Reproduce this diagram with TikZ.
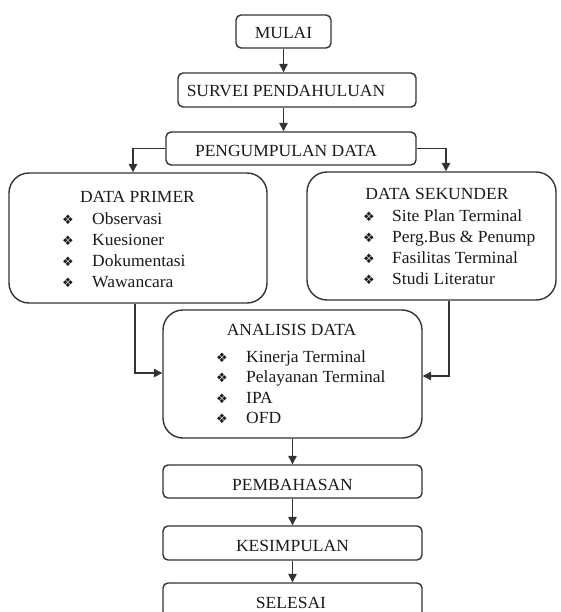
\documentclass[tikz,border=0pt]{standalone}
\usepackage{fontspec}
\setmainfont[FakeStretch=1.03]{Liberation Serif}
\newfontfamily\dingfont{DejaVu Sans}
\usetikzlibrary{arrows.meta}
\definecolor{ln}{HTML}{333333}
\definecolor{tx}{HTML}{1A1A1A}
\tikzset{
  smallbox/.style={draw=ln, line width=1.4pt, rounded corners=5pt, minimum height=33pt, inner sep=0pt},
  bigbox/.style={draw=ln, line width=1.4pt, rounded corners=20pt, inner sep=0pt},
  lbl/.style={font=\fontsize{17}{17}\selectfont, text=tx, anchor=base, inner sep=0pt},
  item/.style={font=\fontsize{17}{17}\selectfont, text=tx, anchor=base west, inner sep=0pt},
  bul/.style={font=\dingfont\fontsize{13}{13}\selectfont, text=tx, anchor=base west, inner sep=0pt},
  conn/.style={draw=ln, line width=1.4pt, -{Triangle[length=8.5pt,width=8.5pt]}}
}
\begin{document}
\begin{tikzpicture}[x=1pt,y=-1pt]
\useasboundingbox (0,0) rectangle (561,612);
% boxes
\node[smallbox, minimum width=95pt] (mulai) at (283.5,31.5) {};
\node[smallbox, minimum width=238pt, minimum height=34pt] (survei) at (297,90) {};
\node[smallbox, minimum width=250pt] (kumpul) at (291,148.5) {};
\node[bigbox, minimum width=258pt, minimum height=130pt] (primer) at (138,238) {};
\node[bigbox, minimum width=249pt, minimum height=128pt] (sekunder) at (431.5,236) {};
\node[bigbox, minimum width=259pt, minimum height=128pt] (analisis) at (292.5,374) {};
\node[smallbox, minimum width=259pt] (bahas) at (292.5,481.5) {};
\node[smallbox, minimum width=259pt, minimum height=34pt] (simpul) at (292.5,543) {};
\node[smallbox, minimum width=259pt, minimum height=34pt] (selesai) at (292.5,600) {};
% small box labels
\node[lbl] (tmulai) at (283.5,38.5) {MULAI};
\node[lbl] (tsurvei) at (286,97) {SURVEI PENDAHULUAN};
\node[lbl] (tkumpul) at (286,157) {PENGUMPULAN DATA};
\node[lbl] (tbahas) at (292.5,490) {PEMBAHASAN};
\node[lbl] (tsimpul) at (292.5,551) {KESIMPULAN};
\node[lbl] (tselesai) at (291,608) {SELESAI};
% DATA PRIMER
\node[lbl] (tprimer) at (137.5,203) {DATA PRIMER};
\node[bul] (bp1) at (62,224) {❖};
\node[item] (p1) at (92,224) {Observasi};
\node[bul] (bp2) at (62,245.5) {❖};
\node[item] (p2) at (92,245.5) {Kuesioner};
\node[bul] (bp3) at (62,266.5) {❖};
\node[item] (p3) at (92,266.5) {Dokumentasi};
\node[bul] (bp4) at (62,287) {❖};
\node[item] (p4) at (92,287) {Wawancara};
% DATA SEKUNDER
\node[lbl] (tsek) at (437,200) {DATA SEKUNDER};
\node[bul] (bs1) at (363,222) {❖};
\node[item] (s1) at (392,222) {Site Plan Terminal};
\node[bul] (bs2) at (363,242.5) {❖};
\node[item] (s2) at (392,242.5) {Perg.Bus \& Penump};
\node[bul] (bs3) at (363,263) {❖};
\node[item] (s3) at (392,263) {Fasilitas Terminal};
\node[bul] (bs4) at (363,284) {❖};
\node[item] (s4) at (392,284) {Studi Literatur};
% ANALISIS DATA
\node[lbl] (tana) at (291.5,335) {ANALISIS DATA};
\node[bul] (ba1) at (216,362) {❖};
\node[item] (a1) at (246,362) {Kinerja Terminal};
\node[bul] (ba2) at (216,382.5) {❖};
\node[item] (a2) at (246,382.5) {Pelayanan Terminal};
\node[bul] (ba3) at (216,403) {❖};
\node[item] (a3) at (246,403) {IPA};
\node[bul] (ba4) at (216,423) {❖};
\node[item] (a4) at (246,423) {OFD};
% connectors
\draw[conn] (mulai.south) -- (survei.north -| mulai.south);
\draw[conn] (survei.south -| mulai.south) -- (kumpul.north -| mulai.south);
\coordinate (kl) at (133,148.5);
\coordinate (kr) at (446,148.5);
\draw[conn] (kumpul.west) -- (kl) -- (kl |- primer.north);
\draw[conn] (kumpul.east) -- (kr) -- (kr |- sekunder.north);
\coordinate (pl) at (135,373);
\coordinate (sr) at (449,376);
\draw[conn] (pl |- primer.south) -- (pl) -- (pl -| analisis.west);
\draw[conn] (sr |- sekunder.south) -- (sr) -- (sr -| analisis.east);
\draw[conn] (analisis.south) -- (bahas.north);
\draw[conn] (bahas.south) -- (simpul.north);
\draw[conn] (simpul.south) -- (selesai.north);
\end{tikzpicture}
\end{document}
